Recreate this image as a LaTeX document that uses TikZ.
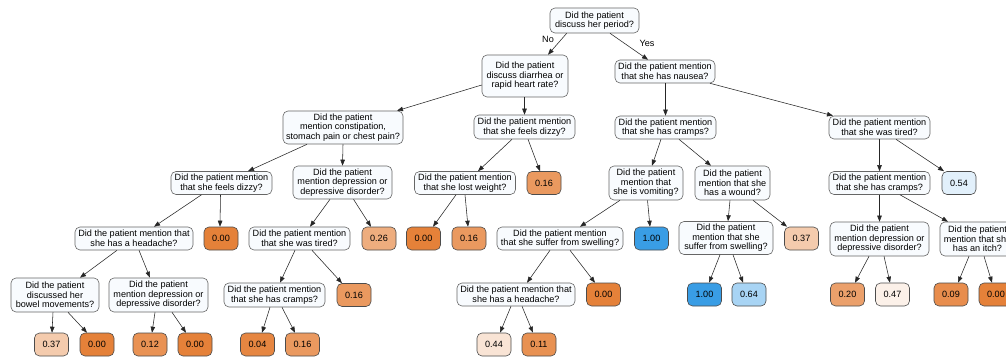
\documentclass[tikz,border=0pt]{standalone}
\usepackage{fontspec}
\setmainfont{Liberation Sans}
\usetikzlibrary{arrows.meta}
\definecolor{qfill}{RGB}{248,251,254}
\definecolor{cA}{RGB}{229,129,57}   % 0.00
\definecolor{cB}{RGB}{57,157,229}   % 1.00
\definecolor{c004}{RGB}{230,134,65}
\definecolor{c009}{RGB}{232,141,77}
\definecolor{c011}{RGB}{232,145,82}
\definecolor{c012}{RGB}{233,146,84}
\definecolor{c016}{RGB}{234,153,95}
\definecolor{c020}{RGB}{235,160,107}
\definecolor{c026}{RGB}{238,173,126}
\definecolor{c037}{RGB}{244,203,173}
\definecolor{c044}{RGB}{249,228,213}
\definecolor{c047}{RGB}{252,241,233}
\definecolor{c054}{RGB}{226,240,251}
\definecolor{c064}{RGB}{168,212,244}
\tikzset{
  x=1pt, y=-1pt,
  q/.style={draw=black!60, fill=qfill, rounded corners=5pt, align=center, inner sep=0pt, line width=0.6pt,
            font=\fontsize{9.1}{9.6}\selectfont},
  leaf/.style={draw=black!70, rounded corners=5pt, inner sep=0pt, line width=0.6pt,
            minimum width=34pt, minimum height=23pt, font=\fontsize{9.1}{9.6}\selectfont},
  edge/.style={draw=black!85, line width=0.55pt, -{Triangle[length=6pt,width=4.5pt]}},
  elab/.style={font=\fontsize{9.1}{9.6}\selectfont, inner sep=0pt}
}
\newcommand\edg[4]{\draw[edge] ([xshift=#2pt]#1.south) -- ([xshift=#4pt]#3.north);}
\begin{document}
\begin{tikzpicture}
\useasboundingbox (0,0) rectangle (1006,358);
\clip (0,0) rectangle (1006,358);
\fill[white] (0,0) rectangle (1006,358);
% level 0-2
\node[q, minimum width=89pt, minimum height=25pt] (root) at (594.5,20.5) {Did the patient\\discuss her period?};
\node[q, minimum width=86pt, minimum height=42pt] (n1) at (525,76) {Did the patient\\discuss diarrhea or\\rapid heart rate?};
\node[q, minimum width=100pt, minimum height=23pt] (y1) at (665,71.5) {Did the patient mention\\that she has nausea?};
\node[q, minimum width=120pt, minimum height=33pt] (cons) at (343,127.5) {Did the patient\\mention constipation,\\stomach pain or chest pain?};
\node[q, minimum width=101pt, minimum height=24pt] (dzr) at (524.5,127) {Did the patient mention\\that she feels dizzy?};
\node[q, minimum width=101pt, minimum height=23pt] (cr) at (665.5,127.5) {Did the patient mention\\that she has cramps?};
\node[q, minimum width=101pt, minimum height=23pt] (ti) at (879.5,127.5) {Did the patient mention\\that she was tired?};
% level 3
\node[q, minimum width=101pt, minimum height=23pt] (dzl) at (221.5,183) {Did the patient mention\\that she feels dizzy?};
\node[q, minimum width=99pt, minimum height=33pt] (dep1) at (342.5,182.5) {Did the patient\\mention depression or\\depressive disorder?};
\node[q, minimum width=101pt, minimum height=23pt] (lw) at (465,183) {Did the patient mention\\that she lost weight?};
\node[leaf, fill=c016] (l016a) at (544,183) {0.16};
\node[q, minimum width=74pt, minimum height=34pt] (vo) at (646,183) {Did the patient\\mention that\\she is vomiting?};
\node[q, minimum width=75pt, minimum height=34pt] (wo) at (732.5,183) {Did the patient\\mention that she\\has a wound?};
\node[q, minimum width=101pt, minimum height=23pt] (cr2) at (879.5,183) {Did the patient mention\\that she has cramps?};
\node[leaf, fill=c054] (l054) at (959,183) {0.54};
% level 4
\node[q, minimum width=118pt, minimum height=23pt] (ha1) at (134,238.5) {Did the patient mention that\\she has a headache?};
\node[leaf, fill=cA] (l000a) at (221,238.5) {0.00};
\node[q, minimum width=101pt, minimum height=23pt] (ti2) at (299.5,238.5) {Did the patient mention\\that she was tired?};
\node[leaf, fill=c026] (l026) at (379,238.5) {0.26};
\node[leaf, fill=cA] (l000b) at (423.5,238.5) {0.00};
\node[leaf, fill=c016] (l016b) at (469,238.5) {0.16};
\node[q, minimum width=126pt, minimum height=23pt] (sw1) at (560,238.5) {Did the patient mention\\that she suffer from swelling?};
\node[leaf, fill=cB] (l100a) at (651.5,238.5) {1.00};
\node[q, minimum width=94pt, minimum height=33pt] (sw2) at (726,238) {Did the patient\\mention that she\\suffer from swelling?};
\node[leaf, fill=c037] (l037a) at (801.5,238.5) {0.37};
\node[q, minimum width=99pt, minimum height=34pt] (dep2) at (879.5,239) {Did the patient\\mention depression or\\depressive disorder?};
\node[q, minimum width=75pt, minimum height=34pt] (it) at (977.5,239) {Did the patient\\mention that she\\has an itch?};
% level 5
\node[q, minimum width=88pt, minimum height=34pt] (bo) at (55,295) {Did the patient\\discussed her\\bowel movements?};
\node[q, minimum width=99pt, minimum height=34pt] (dep3) at (158.5,295) {Did the patient\\mention depression or\\depressive disorder?};
\node[q, minimum width=101pt, minimum height=24pt] (cr3) at (274.5,295) {Did the patient mention\\that she has cramps?};
\node[leaf, fill=c016] (l016c) at (354,295) {0.16};
\node[q, minimum width=118pt, minimum height=23pt] (ha2) at (516,294.5) {Did the patient mention that\\she has a headache?};
\node[leaf, fill=cA] (l000c) at (603.5,294.5) {0.00};
\node[leaf, fill=cB] (l100b) at (704.5,294.5) {1.00};
\node[leaf, fill=c064] (l064) at (749,294.5) {0.64};
\node[leaf, fill=c020] (l020) at (847.5,294.5) {0.20};
\node[leaf, fill=c047] (l047) at (892.5,294.5) {0.47};
\node[leaf, fill=c009] (l009) at (951,294.5) {0.09};
\node[leaf, fill=cA] (l000d) at (996,294.5) {0.00};
% level 6
\node[leaf, fill=c037] (l037b) at (51.5,344.5) {0.37};
\node[leaf, fill=cA] (l000e) at (97,344.5) {0.00};
\node[leaf, fill=c012] (l012) at (150,344.5) {0.12};
\node[leaf, fill=cA] (l000f) at (195,344.5) {0.00};
\node[leaf, fill=c004] (l004) at (257.5,344.5) {0.04};
\node[leaf, fill=c016] (l016d) at (302.5,344.5) {0.16};
\node[leaf, fill=c044] (l044) at (494,344.5) {0.44};
\node[leaf, fill=c011] (l011) at (539,344.5) {0.11};
% edges
\edg{root}{-27.8}{n1}{23}
\edg{root}{15.5}{y1}{-17}
\node[elab] (no) at (548,39) {No};
\node[elab] (yes) at (647,43) {Yes};
\draw[edge] ([yshift=-9pt]n1.west) -- ([xshift=54pt]cons.north);
\edg{n1}{-0.5}{dzr}{0}
\edg{y1}{0.5}{cr}{0}
\edg{y1}{45}{ti}{-46.5}
\edg{cons}{-36}{dzl}{26.5}
\edg{cons}{0}{dep1}{0}
\edg{dzr}{-12.5}{lw}{13}
\edg{dzr}{3.5}{l016a}{-4}
\edg{cr}{-4.5}{vo}{6}
\edg{cr}{13.5}{wo}{-21.5}
\edg{ti}{0}{cr2}{0}
\edg{ti}{16.5}{l054}{-15}
\edg{dzl}{-20}{ha1}{20}
\edg{dzl}{-1}{l000a}{-1}
\edg{dep1}{-12.5}{ti2}{10.5}
\edg{dep1}{11}{l026}{-8}
\edg{lw}{-9}{l000b}{9.5}
\edg{lw}{0}{l016b}{-1}
\edg{vo}{-26}{sw1}{20}
\edg{vo}{1.5}{l100a}{-1.5}
\edg{wo}{-2.5}{sw2}{2}
\edg{wo}{20.5}{l037a}{-14.5}
\edg{cr2}{0}{dep2}{0}
\edg{cr2}{20.5}{it}{-29.5}
\edg{ha1}{-17}{bo}{25}
\edg{ha1}{5}{dep3}{-8.5}
\edg{ti2}{-4.5}{cr3}{5.5}
\edg{ti2}{12.5}{l016c}{-12}
\edg{sw1}{-10}{ha2}{11}
\edg{sw1}{10}{l000c}{-8.5}
\edg{sw2}{-6}{l100b}{4.5}
\edg{sw2}{7}{l064}{-6}
\edg{dep2}{-10.5}{l020}{7.5}
\edg{dep2}{4.5}{l047}{-2.5}
\edg{it}{-8.5}{l009}{7}
\edg{it}{6.5}{l000d}{-4}
\edg{bo}{-2}{l037b}{0.5}
\edg{bo}{13}{l000e}{-10}
\edg{dep3}{-3.5}{l012}{2}
\edg{dep3}{13.5}{l000f}{-9}
\edg{cr3}{-4.5}{l004}{4.5}
\edg{cr3}{7.5}{l016d}{-7.5}
\edg{ha2}{-5}{l044}{6}
\edg{ha2}{6}{l011}{-6}
\end{tikzpicture}
\end{document}
